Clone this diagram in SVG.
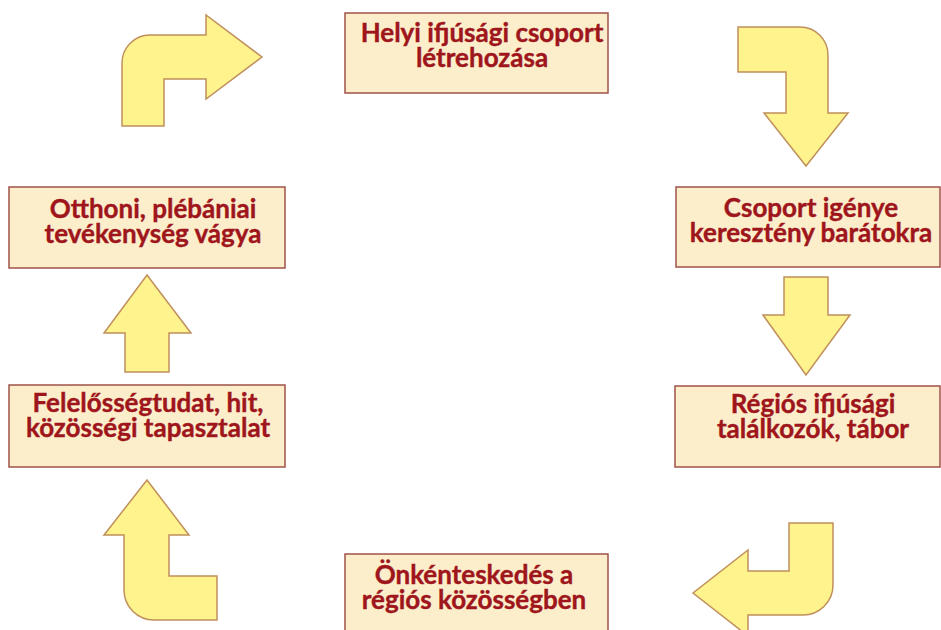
<svg xmlns="http://www.w3.org/2000/svg" width="941" height="630" viewBox="0 0 941 630">
<style>
.box{fill:#fdeecb;stroke:#a0524a;stroke-width:1.5}
.arr{fill:#fff38e;stroke:#c0905c;stroke-width:1.5;stroke-linejoin:miter}
text{font-family:Lato,"Liberation Sans",sans-serif;font-weight:bold;font-size:26px;fill:#9e161c;stroke:#9e161c;stroke-width:0.4;text-anchor:middle}
</style>
<rect width="941" height="630" fill="#ffffff"/>
<g id="n1"><rect class="box" x="345" y="13" width="263" height="80"/><text x="482" y="42">Helyi ifjúsági csoport</text><text x="482" y="67">létrehozása</text></g>
<g id="n2"><rect class="box" x="676" y="187" width="264" height="80"/><text x="811" y="217">Csoport igénye</text><text x="811" y="242">keresztény barátokra</text></g>
<g id="n3"><rect class="box" x="675" y="386" width="265" height="81"/><text x="813" y="413">Régiós ifjúsági</text><text x="813" y="438">találkozók, tábor</text></g>
<g id="n4"><rect class="box" x="345" y="554" width="263" height="90"/><text x="474" y="584">Önkénteskedés a</text><text x="474" y="609">régiós közösségben</text></g>
<g id="n5"><rect class="box" x="9" y="385" width="276" height="82"/><text x="148" y="412">Felelősségtudat, hit,</text><text x="148" y="437">közösségi tapasztalat</text></g>
<g id="n6"><rect class="box" x="9" y="187" width="276" height="81"/><text x="153" y="218">Otthoni, plébániai</text><text x="153" y="243">tevékenység vágya</text></g>
<g id="connectors">
<path class="arr" d="M122,126 L122,63 A28,28 0 0 1 150,35 L206,35 L206,15 L262,57 L206,99 L206,79 L164,79 L164,126 Z"/>
<path class="arr" d="M738,27 L800,27 A28,28 0 0 1 828,55 L828,113 L848,113 L806,166 L764,113 L786,113 L786,72 L738,72 Z"/>
<path class="arr" d="M784,277 L828,277 L828,315 L850,315 L806,375 L763,315 L784,315 Z"/>
<path class="arr" d="M789,523 L833,523 L833,585 A30,30 0 0 1 803,615 L748,615 L748,636 L693,593 L748,550 L748,571 L789,571 Z"/>
<path class="arr" d="M147,480 L189,535 L169,535 L169,576 L217,576 L217,620 L154,620 A30,30 0 0 1 124,590 L124,535 L104,535 Z"/>
<path class="arr" d="M147,275 L191,333 L169,333 L169,372 L125,372 L125,333 L104,333 Z"/>
</g>
</svg>
